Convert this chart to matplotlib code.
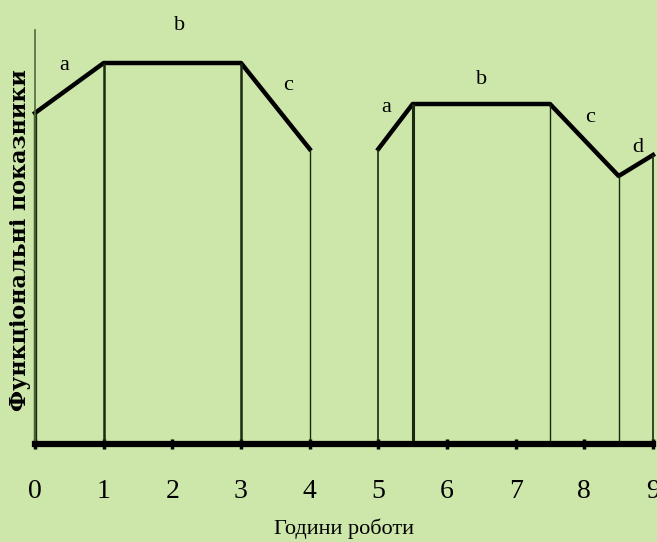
import matplotlib.pyplot as plt

# hours of work and functional indicator level (arbitrary units)
hours_1 = [0, 1, 3, 4]
level_1 = [331, 381, 381, 295]
hours_2 = [5, 5.5, 7.5, 8.5, 9]
level_2 = [295, 340, 340, 268, 289]

# phase labels
phase_text = ["a", "b", "c", "a", "b", "c", "d"]
phase_x = [0.42, 2.1, 3.68, 5.12, 6.5, 8.09, 8.78]
phase_y = [379, 419, 359, 337, 364, 326, 296]

xticks = list(range(10))

bg = "#cde6aa"
font = "Liberation Serif"

fig = plt.figure(figsize=(6.57, 5.42), dpi=100, facecolor=bg)
ax = fig.add_axes([35 / 657, 98 / 542, 618 / 657, 414 / 542])
ax.set_facecolor(bg)
ax.set_xlim(0, 9)
ax.set_ylim(0, 414)

ax.plot(hours_1, level_1, color="black", lw=3.2, solid_joinstyle="round", clip_on=False)
ax.plot(hours_2, level_2, color="black", lw=3.2, solid_joinstyle="round", clip_on=False)

# vertical drop lines under the curve
widths_1 = [2.4, 1.8, 1.8, 1.0]
widths_2 = [1.2, 2.2, 1.0, 1.0, 1.2]
for x, y, w in zip(hours_1, level_1, widths_1):
    ax.vlines(x, 0, y, color="#1a2a10", lw=w, clip_on=False)
for x, y, w in zip(hours_2, level_2, widths_2):
    ax.vlines(x, 0, y, color="#1a2a10", lw=w, clip_on=False)

for t, x, y in zip(phase_text, phase_x, phase_y):
    ax.text(x, y, t, fontsize=16, family=font, ha="center", va="center")

for s in ax.spines.values():
    s.set_visible(False)
ax.axvline(0, color="#4d6a3a", lw=1.2, clip_on=False)
ax.axhline(0, color="black", lw=4.5, clip_on=False)

ax.set_yticks([])
ax.set_xticks(xticks)
ax.set_xticklabels([str(v) for v in xticks], family=font, fontsize=20)
ax.tick_params(axis="x", direction="inout", length=7, width=2.5, pad=22)

ax.set_xlabel("Години роботи", family=font, fontsize=16, labelpad=10)
fig.text(20 / 657, 1 - 240 / 542, "Функціональні показники", rotation=90,
         family="DejaVu Serif", fontsize=16, fontweight="bold", ha="center", va="center")

fig.savefig("out.png", dpi=100, facecolor=bg)
